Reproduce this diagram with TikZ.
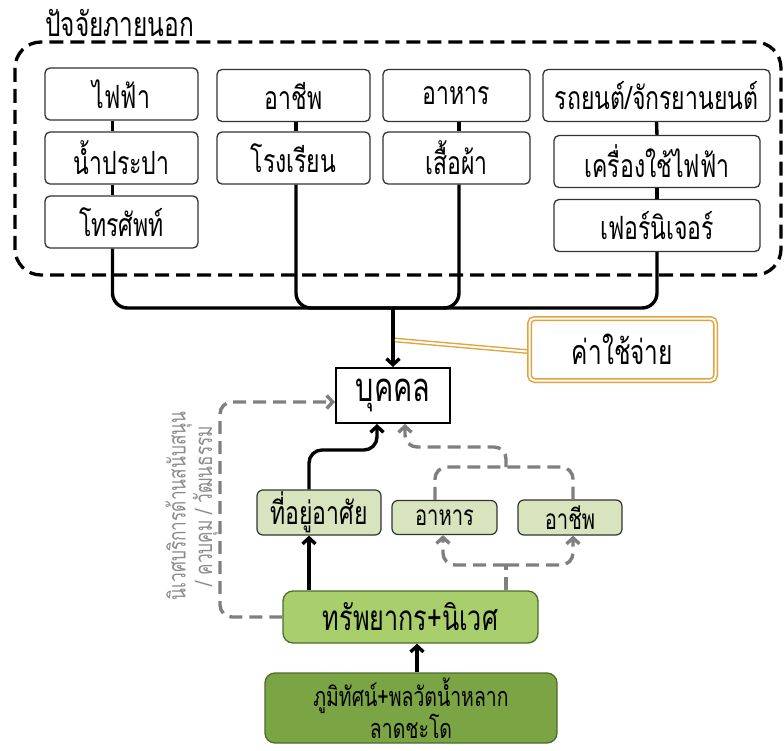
\documentclass[tikz,border=0pt]{standalone}
\usepackage{fontspec}
\setmainfont[Script=Thai, FakeStretch=0.72]{Loma}
\usetikzlibrary{arrows.meta,calc}

\definecolor{boxline}{HTML}{333333}
\definecolor{flowgray}{HTML}{7F7F7F}
\definecolor{notegray}{HTML}{8C8C8C}
\definecolor{costgold}{HTML}{E3A23B}
\definecolor{sagefill}{HTML}{D7E4BD}
\definecolor{leaffill}{HTML}{A9CE6C}
\definecolor{mossfill}{HTML}{7BA544}
\definecolor{mossline}{HTML}{4E6B2A}

\newcommand{\fs}[2]{\fontsize{#1}{#2}\selectfont}

\tikzset{
  itembox/.style={draw=boxline, line width=1.3pt, rounded corners=5pt, fill=white,
    inner sep=0pt, minimum height=52pt, font=\fs{32}{36}},
  personbox/.style={draw=black, line width=2pt, fill=white, inner sep=0pt,
    minimum width=114pt, minimum height=55pt, font=\fs{40}{44}},
  costbox/.style={draw=costgold, double=white, double distance=2pt, line width=1.5pt,
    rounded corners=5pt, fill=white, inner sep=0pt, minimum width=186pt,
    minimum height=62pt, font=\fs{34}{38}},
  sagebox/.style={draw=boxline, line width=1.2pt, rounded corners=6pt, fill=sagefill,
    inner sep=0pt},
  leafbox/.style={draw=mossline, line width=1.3pt, rounded corners=10pt, fill=leaffill,
    inner sep=0pt, minimum width=255pt, minimum height=52pt, font=\fs{35}{38}},
  mossbox/.style={draw=mossline, line width=1.3pt, rounded corners=10pt, fill=mossfill,
    inner sep=0pt, text width=280pt, minimum width=292pt, minimum height=70pt,
    align=center, font=\fs{27}{26}},
  outerframe/.style={draw=black, line width=3.3pt, dash pattern=on 14pt off 7pt,
    rounded corners=26pt},
  link/.style={draw=black, line width=3.4pt},
  bus/.style={draw=black, line width=3.4pt, rounded corners=15pt},
  arr/.style={draw=black, line width=3.4pt, rounded corners=13pt,
    -{Straight Barb[length=6pt,width=13pt]}},
  gline/.style={draw=flowgray, line width=3.4pt, dash pattern=on 13pt off 7pt,
    rounded corners=12pt},
  garr/.style={gline, -{Straight Barb[length=6pt,width=13pt]}},
  callout/.style={draw=costgold, double=white, double distance=2pt, line width=1.4pt},
}

\begin{document}
\begin{tikzpicture}[x=1pt, y=-1pt]
  \useasboundingbox (0,0) rectangle (784,751);

  % outer group of external factors
  \draw[outerframe] (15,42) rectangle (781,275);
  \node[anchor=south west, inner sep=0pt, font=\fs{34}{38}]
    (extlabel) at (45,37) {ปัจจัยภายนอก};

  % column 1
  \node[itembox, minimum width=153pt] (t11) at (121.5,94) {ไฟฟ้า};
  \node[itembox, minimum width=153pt] (t12) at (121.5,158) {น้ำประปา};
  \node[itembox, minimum width=153pt] (t13) at (121.5,222) {โทรศัพท์};
  % column 2
  \node[itembox, minimum width=153pt] (t21) at (293.5,95.5) {อาชีพ};
  \node[itembox, minimum width=153pt] (t22) at (293.5,158) {โรงเรียน};
  % column 3
  \node[itembox, minimum width=147pt] (t31) at (456.5,95.5) {อาหาร};
  \node[itembox, minimum width=147pt] (t32) at (456.5,158) {เสื้อผ้า};
  % column 4
  \node[itembox, minimum width=227pt] (t41) at (656.5,95.5) {รถยนต์/จักรยานยนต์};
  \node[itembox, minimum width=206pt] (t42) at (657,161.5) {เครื่องใช้ไฟฟ้า};
  \node[itembox, minimum width=206pt] (t43) at (657,225.5) {เฟอร์นิเจอร์};

  % links inside each column
  \draw[link] ($(t11.south)+(-9,0)$) -- ($(t12.north)+(-9,0)$);
  \draw[link] ($(t12.south)+(-9,0)$) -- ($(t13.north)+(-9,0)$);
  \draw[link] ($(t21.south)+(2.5,0)$) -- ($(t22.north)+(2.5,0)$);
  \draw[link] ($(t31.south)+(2.5,0)$) -- ($(t32.north)+(2.5,0)$);
  \draw[link] (t41.south) -- (t42.north);
  \draw[link] (t42.south) -- (t43.north);

  % person and the collecting bus
  \node[personbox] (person) at (393,395.5) {บุคคล};
  \coordinate (hub) at (393,308);
  \draw[bus] ($(t13.south)+(-9,0)$) |- (hub);
  \draw[bus] ($(t22.south)+(2.5,0)$) |- (hub);
  \draw[bus] ($(t32.south)+(2.5,0)$) |- (hub);
  \draw[bus] (t43.south) |- (hub);
  \draw[arr] (hub) -- (person.north);

  % cost callout
  \node[costbox] (cost) at (622.5,349.5) {ค่าใช้จ่าย};
  \coordinate (costtip) at (395,340);
  \draw[callout] ($(cost.west)+(-2,2)$) -- (costtip);

  % local resources
  \node[sagebox, minimum width=124pt, minimum height=45pt, font=\fs{32}{34}]
    (home) at (319,512.5) {ที่อยู่อาศัย};
  \node[sagebox, minimum width=105pt, minimum height=34pt, font=\fs{28}{30}]
    (food) at (444.5,517.5) {อาหาร};
  \node[sagebox, minimum width=104pt, minimum height=35pt, font=\fs{28}{30}]
    (job) at (570,517.5) {อาชีพ};
  \node[leafbox] (res) at (410.5,617) {ทรัพยากร+นิเวศ};
  \node[mossbox] (land) at (411,708) {ภูมิทัศน์+พลวัตน้ำหลาก\\ลาดชะโด};

  % black supply arrows
  \coordinate (hx) at (309,0);
  \coordinate (bend) at (377,450);
  \draw[arr] (res.north -| hx) -- (home.south -| hx);
  \draw[arr] (home.north -| hx) |- (bend) -- (person.south -| bend);
  \coordinate (lx) at (417,0);
  \draw[arr] (land.north -| lx) -- (res.south -| lx);

  % grey ecosystem-service flows
  \coordinate (gl) at (220,402);
  \draw[garr] (res.west) -| (gl) -- (gl -| person.west);

  \coordinate (gj) at (506,565);
  \draw[gline] (res.north -| gj) -- (gj);
  \draw[garr] (gj) -| ($(food.south)+(-1.5,0)$);
  \draw[garr] (gj) -| ($(job.south)+(3,0)$);

  \coordinate (gt) at (506,467);
  \draw[gline] ($(food.north)+(-9.5,0)$) |- (gt) -| ($(job.north)+(3,0)$);
  \draw[garr] (gt) -- (506,447) -| ($(person.south)+(12,0)$);

  % supporting / regulating / cultural services note
  \node[rotate=90, align=center, text=notegray, inner sep=0pt, font=\fs{24}{22}]
    (note) at (192,506) {นิเวศบริการด้านสนับสนุน\\/ ควบคุม / วัฒนธรรม};
\end{tikzpicture}
\end{document}
